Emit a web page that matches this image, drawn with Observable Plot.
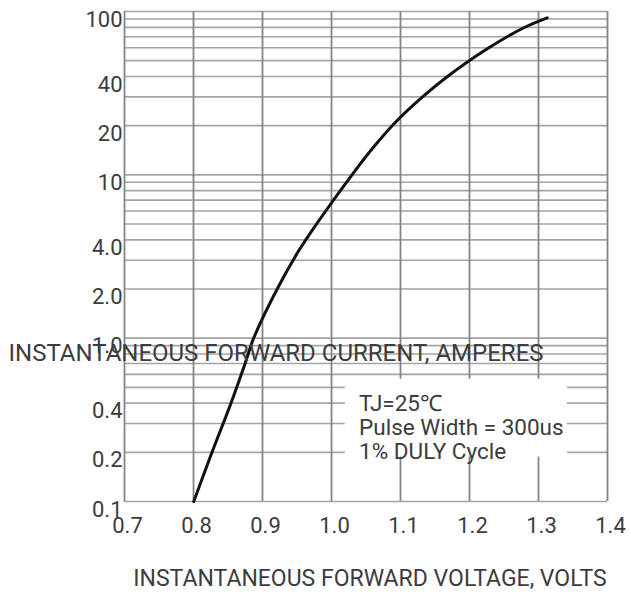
<!DOCTYPE html>
<html><head><meta charset="utf-8">
<script src="https://cdn.jsdelivr.net/npm/d3@7"></script>
<script src="https://cdn.jsdelivr.net/npm/@observablehq/plot@0.6"></script>
<style>body{margin:0;background:#fff}</style>
</head><body><div id="chart"></div>
<script>
// Forward characteristic
const voltage = [0.8004, 0.8268, 0.8543, 0.8748, 0.8872, 0.9213, 0.9529, 0.9783, 1.0297, 1.0623, 1.0952, 1.1319, 1.1667, 1.2257, 1.2787, 1.3126];
const current = [0.1, 0.2, 0.4, 0.7, 1, 2, 3.45, 5, 10, 15, 21.5, 30, 39.6, 59.1, 79.5, 91.5];

// Axis ticks and grid
const xTicks = [0.7, 0.8, 0.9, 1.0, 1.1, 1.2, 1.3, 1.4];
const xTickLabels = ["0.7", "0.8", "0.9", "1.0", "1.1", "1.2", "1.3", "1.4"];
const yTicks = [100, 40, 20, 10, 4, 2, 1, 0.4, 0.2, 0.1];
const yTickLabels = ["100", "40", "20", "10", "4.0", "2.0", "1.0", "0.4", "0.2", "0.1"];
const yGrid = [0.1, 0.2, 0.3, 0.4, 0.5, 0.6, 0.7, 0.8, 0.9,
               1, 2, 3, 4, 5, 6, 7, 8, 9,
               10, 20, 30, 40, 50, 60, 70, 80, 90, 100];

const xTitle = "INSTANTANEOUS FORWARD VOLTAGE, VOLTS";
const yTitle = "INSTANTANEOUS FORWARD CURRENT, AMPERES";
const noteLines = ["TJ=25℃", "Pulse Width = 300us", "1% DULY Cycle"];

const curve = voltage.map((v, i) => ({v, i: current[i]}));
const xLab = new Map(xTicks.map((d, k) => [d, xTickLabels[k]]));
const yLab = new Map(yTicks.map((d, k) => [d, yTickLabels[k]]));

const font = "Roboto, 'Noto Sans', sans-serif";
const ink = "#3c3c3c";

const chart = Plot.plot({
  width: 631,
  height: 592,
  marginLeft: 124,
  marginRight: 24,
  marginTop: 11,
  marginBottom: 91,
  style: {fontFamily: font, color: ink, background: "#fff"},
  x: {domain: [0.7, 1.4], axis: null},
  y: {type: "log", domain: [0.1, 100], axis: null},
  marks: [
    Plot.ruleY(yGrid, {stroke: "#a4a4a4", strokeWidth: 1.6}),
    Plot.ruleX(xTicks, {stroke: "#858585", strokeWidth: 1.8}),
    // white panel behind the test-condition note
    Plot.rect([noteLines], {x1: () => 1.02, x2: () => 1.342, y1: () => 0.187, y2: () => 0.56, fill: "#fff"}),
    Plot.line(curve, {x: "v", y: "i", stroke: "#111", strokeWidth: 3, curve: "catmull-rom"}),
    Plot.axisX(xTicks, {label: null, tickSize: 0, tickPadding: 16, dx: 3, fontSize: 22, tickFormat: d => xLab.get(d)}),
    Plot.axisY(yTicks, {label: null, tickSize: 0, tickPadding: 2, dy: 8, fontSize: 22, tickFormat: d => yLab.get(d)}),
    Plot.text([noteLines.join("\n")], {x: () => 1.04, y: () => 0.285, text: d => d, textAnchor: "start", lineAnchor: "middle", lineHeight: 1.08, fontSize: 22.5, fill: ink}),
    Plot.text([yTitle], {frameAnchor: "left", y: () => 0.81, text: d => d, textAnchor: "start", dx: -116, fontSize: 24, fill: ink}),
    Plot.text([xTitle], {frameAnchor: "bottom", text: d => d, dy: 77, dx: 4, lineAnchor: "middle", fontSize: 23, fill: ink})
  ]
});
document.getElementById("chart").appendChild(chart);
</script>
</body></html>
